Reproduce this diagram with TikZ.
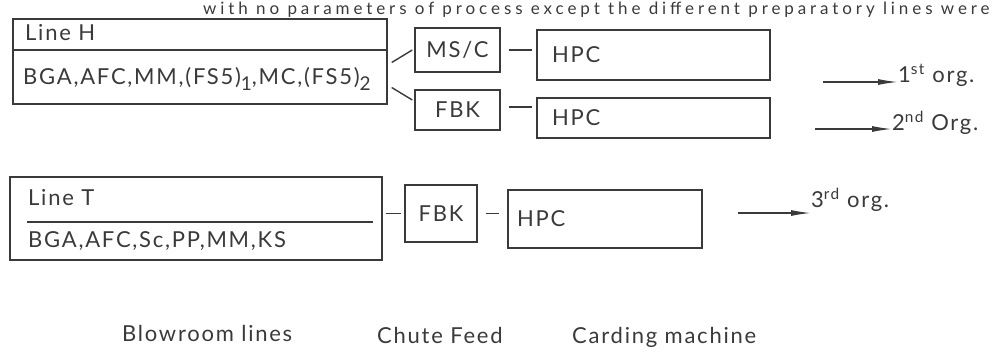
\documentclass[tikz,border=0pt]{standalone}
\usepackage{fontspec}
\setmainfont[LetterSpace=8]{Lato}
\newfontfamily\runfont[LetterSpace=23]{Lato}
\usetikzlibrary{arrows.meta,calc}
\definecolor{Ink}{HTML}{3A3A3A}
\newcommand{\lowsub}[1]{\raisebox{-0.6ex}{\fontsize{19}{19}\selectfont #1}}

\begin{document}
\begin{tikzpicture}[x=1pt,y=-1pt,
    font=\fontsize{22}{26}\selectfont,
    unit/.style={draw=Ink,line width=1.4pt,inner sep=0pt,text=Ink},
    txt/.style={text=Ink,inner sep=0pt,anchor=base west},
    lnk/.style={draw=Ink,line width=1.4pt},
    arr/.style={-{Latex[length=20pt,width=6pt]},draw=Ink,line width=1.4pt}]
  \useasboundingbox (0,0) rectangle (1008,357);
  % line of the page text above the figure
  \node[txt,font=\runfont\fontsize{17}{20}\selectfont] (runon) at (203,14) {with no parameters of process except the different preparatory lines were};
  % blowroom line H
  \node[unit,minimum width=374pt,minimum height=85pt] (lineH) at (200,61.5) {};
  \coordinate (hdiv) at (0,50);
  \draw[lnk] (lineH.west |- hdiv) -- (lineH.east |- hdiv);
  \node[txt] (hname) at (25,40) {Line H};
  \node[txt] (hlist) at (23,84) {BGA,AFC,MM,(FS5)\lowsub{1},MC,(FS5)\lowsub{2}};
  % chute feeds and cards of line H
  \node[unit,minimum width=85pt,minimum height=44pt] (msc) at (457.5,50) {MS/C};
  \node[unit,minimum width=85pt,minimum height=40pt] (fbk1) at (457.5,110) {FBK};
  \node[unit,minimum width=233pt,minimum height=50pt,text width=203pt,align=left] (hpc1) at (653.5,55) {HPC};
  \node[unit,minimum width=233pt,minimum height=40pt,text width=203pt,align=left] (hpc2) at (653.5,118) {HPC};
  \draw[lnk] ($(lineH.east)+(4,1)$) -- ($(msc.west)+(-2,0)$);
  \draw[lnk] ($(lineH.east)+(4,26)$) -- ($(fbk1.west)+(-2,-10)$);
  \draw[lnk] ($(msc.east)+(8,0)$) -- ($(msc.east -| hpc1.west)+(-4,0)$);
  \draw[lnk] ($(fbk1.east)+(8,-3)$) -- ($(fbk1.east -| hpc2.west)+(-4,-3)$);
  % blowroom line T
  \node[unit,minimum width=372pt,minimum height=83pt] (lineT) at (196,218.5) {};
  \coordinate (tdiv) at (0,222);
  \draw[lnk] ($(lineT.west |- tdiv)+(18,0)$) -- ($(lineT.east |- tdiv)+(-10,0)$);
  \node[txt] (tname) at (28,205) {Line T};
  \node[txt] (tlist) at (28,247) {BGA,AFC,Sc,PP,MM,KS};
  \node[unit,minimum width=72pt,minimum height=57pt] (fbk2) at (441,213.5) {FBK};
  \node[unit,minimum width=194pt,minimum height=58pt,text width=176pt,align=left] (hpc3) at (605,219) {HPC};
  \draw[lnk] ($(lineT.east |- fbk2.west)+(3,0)$) -- ($(fbk2.west)+(-3,0)$);
  \draw[lnk] ($(fbk2.east)+(8,0)$) -- ($(fbk2.east -| hpc3.west)+(-8,0)$);
  % outputs
  \node[txt] (org1) at (898,82) {1\textsuperscript{st} org.};
  \node[txt] (org2) at (892,130) {2\textsuperscript{nd} Org.};
  \node[txt] (org3) at (811,207) {3\textsuperscript{rd} org.};
  \coordinate (a1) at (823,82);
  \coordinate (a2) at (815,129);
  \coordinate (a3) at (738,213);
  \draw[arr] (a1) -- (a1 -| org1.base west);
  \draw[arr] (a2) -- (a2 -| org2.base west);
  \draw[arr] (a3) -- (a3 -| org3.base west);
  % column captions
  \node[txt] (cblow) at (122,341) {Blowroom lines};
  \node[txt] (cchute) at (377,343) {Chute Feed};
  \node[txt] (ccard) at (572,343) {Carding machine};
\end{tikzpicture}
\end{document}
